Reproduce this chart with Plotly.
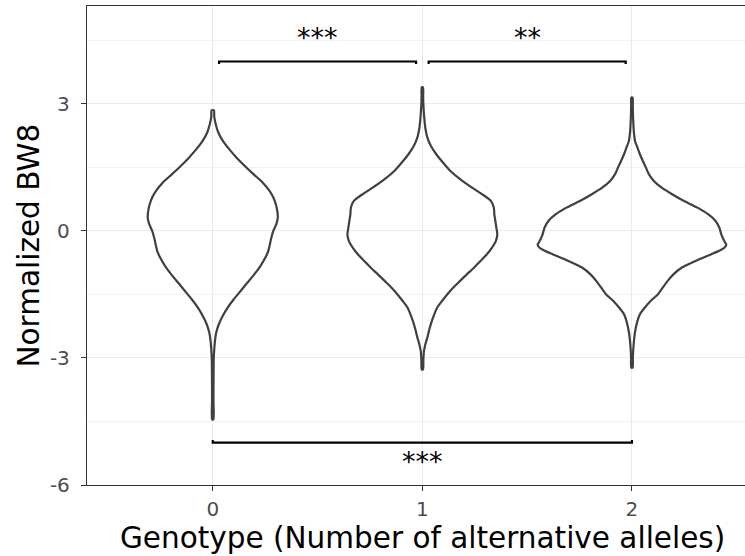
import plotly.graph_objects as go

# ---------------- data ----------------
genotypes = [0, 1, 2]
tick_labels_x = ["0", "1", "2"]
y_ticks = [-6, -3, 0, 3]

# violin outline: y values and relative density (half-width) for each genotype
v0_y = [2.85, 2.70, 2.52, 2.33, 2.13, 1.93, 1.73, 1.54, 1.34, 1.15, 0.95, 0.79, 0.63, 0.47, 0.31, 0.16, 0.0,
        -0.16, -0.32, -0.47, -0.63, -0.83, -1.02, -1.22, -1.42, -1.62, -1.81, -2.01, -2.21, -2.40, -2.60,
        -2.80, -3.0, -3.5, -4.0, -4.45]
v0_d = [1.2, 1.5, 3.0, 5.5, 10, 16.5, 24, 32, 41, 50, 57, 61, 63.5, 65, 65.5, 64, 61,
        59, 57.5, 56, 53, 48, 42, 35, 28, 21, 15, 10, 6, 3.5, 2.2,
        1.5, 1.0, 0.8, 0.7, 0.7]

v1_y = [3.39, 3.2, 3.0, 2.80, 2.60, 2.40, 2.21, 2.01, 1.81, 1.62, 1.42, 1.22, 1.02, 0.87, 0.71, 0.55, 0.39,
        0.24, 0.08, -0.08, -0.24, -0.40, -0.55, -0.71, -0.87, -1.02, -1.18, -1.34, -1.50, -1.65, -1.81,
        -1.97, -2.13, -2.33, -2.52, -2.68, -2.84, -3.05, -3.27]
v1_d = [0.7, 0.8, 1.0, 1.5, 2.2, 3.2, 5.0, 8.5, 14, 20.5, 28, 38, 50, 60, 69, 72, 72.5,
        73.5, 74.5, 75.5, 74, 70, 65, 58.5, 52, 45, 38, 31, 25, 20, 15,
        12, 9.5, 7, 5, 3, 1.6, 1.0, 0.7]

v2_y = [3.15, 2.95, 2.76, 2.58, 2.40, 2.27, 2.13, 1.97, 1.81, 1.65, 1.50, 1.34, 1.18, 1.02, 0.87, 0.71, 0.55,
        0.39, 0.24, 0.08, -0.08, -0.24, -0.32, -0.40, -0.47, -0.55, -0.71, -0.87, -1.02, -1.18, -1.34,
        -1.50, -1.65, -1.81, -1.97, -2.13, -2.40, -2.60, -2.80, -3.0, -3.23]
v2_d = [0.7, 0.8, 1.0, 1.3, 1.7, 2.2, 3.0, 5.5, 8, 11, 14, 17, 22, 30, 40, 52, 66,
        77, 84, 88, 90, 93, 95, 93, 88, 80, 64, 50, 42, 36, 31,
        26, 19, 13, 8, 5.5, 3, 2, 1.3, 0.9, 0.7]

violin_y = [v0_y, v1_y, v2_y]
violin_d = [v0_d, v1_d, v2_d]

# significance brackets (group a, group b, bracket height, label)
bracket_from = [0, 1, 0]
bracket_to = [1, 2, 2]
bracket_y = [4.0, 4.0, -5.0]
bracket_label = ["***", "**", "***"]

# ---------------- figure ----------------
VIOLIN_WIDTH = 0.9
dmax = max(max(d) for d in violin_d)

fig = go.Figure()

for g, ys, ds in zip(genotypes, violin_y, violin_d):
    half = [d / dmax * VIOLIN_WIDTH / 2 for d in ds]
    xs = [g + h for h in half] + [g - h for h in reversed(half)] + [g + half[0]]
    yy = list(ys) + list(reversed(ys)) + [ys[0]]
    fig.add_trace(go.Scatter(
        x=xs, y=yy, mode="lines",
        line=dict(color="#404040", width=2.2, shape="spline", smoothing=0.6),
        fill="toself", fillcolor="rgba(255,255,255,0)",
        hoverinfo="skip", showlegend=False,
    ))

annotations = []
for a, b, h, lab in zip(bracket_from, bracket_to, bracket_y, bracket_label):
    upper = h > 0
    inset = 0.03 if upper else 0.0
    tip = -0.06 if upper else 0.06
    x0, x1 = a + inset, b - inset
    fig.add_trace(go.Scatter(
        x=[x0, x0, x1, x1], y=[h + tip, h, h, h + tip], mode="lines",
        line=dict(color="black", width=2.2), hoverinfo="skip", showlegend=False,
    ))
    annotations.append(dict(
        x=(a + b) / 2, y=h + (0.57 if upper else -0.45), xref="x", yref="y",
        text=lab, showarrow=False, font=dict(family="DejaVu Sans", size=27, color="black"),
        xanchor="center", yanchor="middle",
    ))

annotations.append(dict(
    x=1, y=0, xref="x", yref="paper", yshift=-53, text="Genotype (Number of alternative alleles)",
    showarrow=False, font=dict(family="DejaVu Sans", size=29.5, color="black"),
    xanchor="center", yanchor="middle",
))
annotations.append(dict(
    x=0, y=0.5, xref="paper", yref="paper", xshift=-59, text="Normalized BW8", textangle=-90,
    showarrow=False, font=dict(family="DejaVu Sans", size=29.5, color="black"),
    xanchor="center", yanchor="middle",
))

grid_c = "#EBEBEB"
axis_c = "#333333"

fig.update_layout(
    width=745, height=556,
    margin=dict(l=87, r=0, t=6, b=71),
    paper_bgcolor="white", plot_bgcolor="white",
    showlegend=False,
    font=dict(family="DejaVu Sans"),
    annotations=annotations,
    xaxis=dict(
        range=[-0.6, -0.6 + 658 / 209.6],
        tickmode="array", tickvals=genotypes, ticktext=tick_labels_x,
        tickfont=dict(size=20, color="#4D4D4D"),
        ticks="outside", ticklen=5, tickcolor=axis_c, tickwidth=1.2,
        ticklabelstandoff=1,
        showgrid=True, gridcolor=grid_c, gridwidth=1.3,
        showline=True, linecolor=axis_c, linewidth=1.3, mirror=True,
        zeroline=False, fixedrange=True,
    ),
    yaxis=dict(
        range=[-6, -6 + 479 / 42.35],
        tickmode="array", tickvals=y_ticks, ticktext=[str(v) for v in y_ticks],
        tickfont=dict(size=20, color="#4D4D4D"),
        ticks="outside", ticklen=5, tickcolor=axis_c, tickwidth=1.2,
        ticklabelstandoff=7,
        showgrid=True, gridcolor=grid_c, gridwidth=1.3,
        minor=dict(tickmode="array", tickvals=[-4.5, -1.5, 1.5, 4.5], showgrid=True,
                   gridcolor="#F2F2F2", gridwidth=0.8, ticks=""),
        showline=True, linecolor=axis_c, linewidth=1.3, mirror=False,
        zeroline=False, fixedrange=True,
    ),
)

fig.write_html("out.html")
